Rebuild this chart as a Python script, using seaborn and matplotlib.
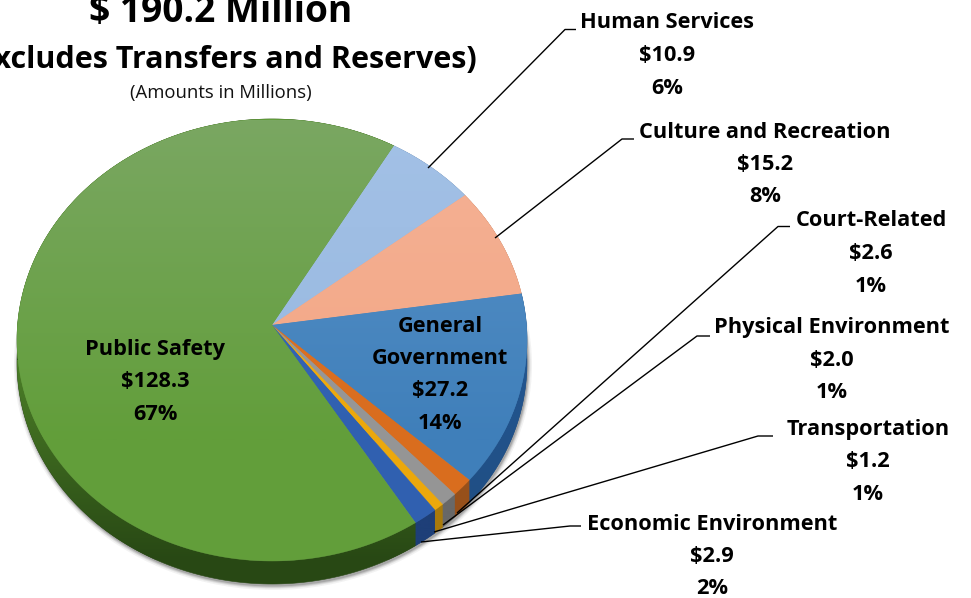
import numpy as np
import matplotlib
matplotlib.use("Agg")
import matplotlib.pyplot as plt
from matplotlib.colors import LinearSegmentedColormap
from matplotlib.patches import Ellipse, Polygon
import seaborn as sns

# clockwise, starting at Human Services
categories = ["Human Services", "Culture and Recreation", "General\nGovernment", "Court-Related",
              "Physical Environment", "Transportation", "Economic Environment", "Public Safety"]
amounts = [10.9, 15.2, 27.2, 2.6, 2.0, 1.2, 2.9, 128.3]
percents = [6, 8, 14, 1, 1, 1, 2, 67]

top_light = ["#A3C1E6", "#F5B296", "#5A93C8", "#E0752A", "#A0A0A0", "#F2B01E", "#3A6CBD", "#7AA762"]
top_dark = ["#97B8E0", "#F2A684", "#3F7FBA", "#D96D1E", "#959595", "#ECA80C", "#3060B0", "#629E3A"]
side_upper = ["#5F7FA6", "#B0765A", "#235690", "#97501A", "#686868", "#A87A0C", "#1E3F78", "#4C7F28"]
side_lower = ["#5F7FA6", "#B0765A", "#1F4C80", "#97501A", "#686868", "#A87A0C", "#1E3F78", "#284814"]

CX, CY, RX, RY = 272, 340, 255, 221
APEX = (272, 325)
DEPTH = 23

# label centres in pixels: (x, first line y)
label_pos = {
    "Human Services": (667, 22),
    "Culture and Recreation": (765, 131),
    "Court-Related": (871, 220),
    "Physical Environment": (832, 327),
    "Transportation": (868, 428),
    "Economic Environment": (712, 523),
    "General\nGovernment": (440, 325),
    "Public Safety": (155, 348),
}
leaders = {
    "Human Services": [(428, 168), (565, 29.5), (576, 29.5)],
    "Culture and Recreation": [(495, 238), (622, 139), (634, 139)],
    "Court-Related": [(457, 513), (778, 226.5), (790, 226.5)],
    "Physical Environment": [(443, 525), (697, 336), (710, 336)],
    "Transportation": [(434, 532), (758, 436), (773, 436)],
    "Economic Environment": [(421, 542), (570, 526), (581, 526)],
}


def rim(theta1, theta2, dy=0.0):
    t = np.radians(np.linspace(theta1, theta2, max(int(abs(theta2 - theta1)), 2) + 1))
    return np.column_stack([CX + RX * np.cos(t), CY + dy - RY * np.sin(t)])


def shade(patch, light, dark, extent):
    cmap = LinearSegmentedColormap.from_list("shade", [light, dark])
    img = ax.imshow(np.linspace(0, 1, 256).reshape(-1, 1), cmap=cmap, aspect="auto",
                    extent=extent, zorder=patch.get_zorder() + 0.1, interpolation="bilinear")
    img.set_clip_path(patch)


sns.set_theme(style="white")
plt.rcParams["font.family"] = ["Open Sans", "DejaVu Sans"]

fig = plt.figure(figsize=(9.71, 5.98), dpi=100)
ax = fig.add_axes([0, 0, 1, 1])
wedges, _ = ax.pie(amounts, startangle=61.5, counterclock=False)
angles = [(w.theta1, w.theta2) for w in wedges]
for w in wedges:
    w.remove()

# soft shadow below the pie
for grow, alpha in zip([8, 5, 3, 1], [0.06, 0.10, 0.14, 0.20]):
    ax.add_patch(Ellipse((CX + 1, CY + DEPTH + 2), 2 * RX + grow, 2 * RY + grow,
                         fc="#303030", ec="none", alpha=alpha, zorder=1))

for (t1, t2), upper, lower in zip(angles, side_upper, side_lower):
    outline = np.vstack([rim(t1, t2), rim(t1, t2, DEPTH)[::-1]])
    wall = Polygon(outline, fc=lower, ec=lower, lw=0.4, zorder=2)
    ax.add_patch(wall)
    shade(wall, upper, lower, (0, 971, 560, 360))

for (t1, t2), light, dark in zip(angles, top_light, top_dark):
    face = Polygon(np.vstack([[APEX], rim(t1, t2)]), fc=dark, ec=dark, lw=0.3, zorder=3)
    ax.add_patch(face)
    shade(face, light, dark, (0, 971, 440, 120))

ax.set_xlim(0, 971)
ax.set_ylim(598, 0)
ax.axis("off")

for name, pts in leaders.items():
    xs, ys = zip(*pts)
    ax.plot(xs, ys, color="black", lw=1.0, zorder=4, solid_capstyle="butt")

LABEL_SIZE = 15.7
LINE_GAP = 32.5
for name, amt, pct in zip(categories, amounts, percents):
    x, y = label_pos[name]
    lines = name.split("\n") + [f"${amt:.1f}", f"{pct}%"]
    for i, line in enumerate(lines):
        ax.text(x, y + i * LINE_GAP + 1, line, ha="center", va="center", fontsize=LABEL_SIZE,
                fontweight="bold", color="black", zorder=5)

ax.text(221, 12, "$ 190.2 Million", ha="center", va="center", fontsize=26.7,
        fontweight="bold", color="black", zorder=5)
ax.text(221, 60, "(Excludes Transfers and Reserves)", ha="center", va="center", fontsize=22,
        fontweight="bold", color="black", zorder=5)
ax.text(221, 93, "(Amounts in Millions)", ha="center", va="center", fontsize=13.3,
        color="#111111", zorder=5)

fig.savefig("out.png", dpi=100)
